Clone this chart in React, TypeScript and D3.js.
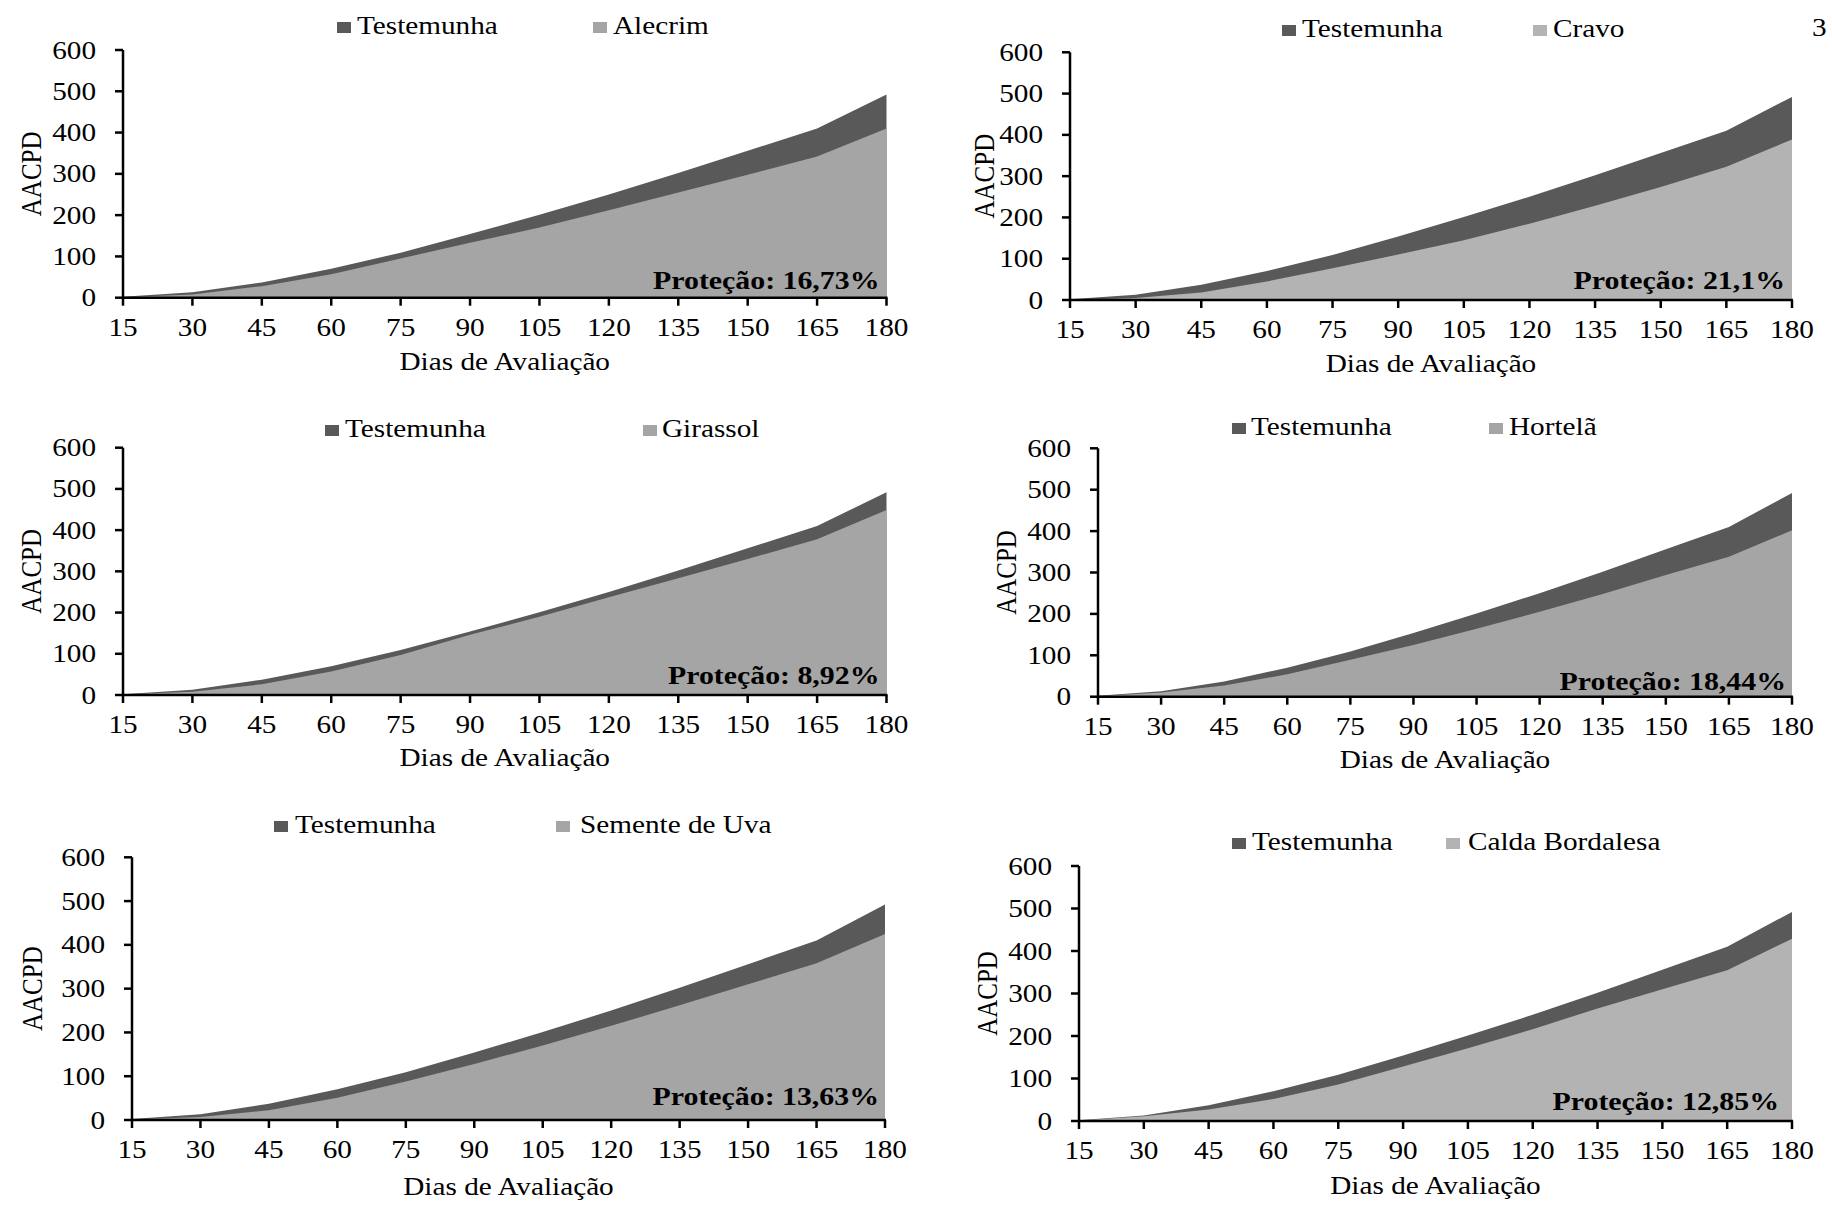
import React from "react";
import * as d3 from "d3";

const days = [15, 30, 45, 60, 75, 90, 105, 120, 135, 150, 165, 180];
const yTicks = [0, 100, 200, 300, 400, 500, 600];

const testemunha = [2, 13, 37, 70, 109, 154, 201, 250, 302, 356, 410, 492];
const alecrim = [1, 8, 28, 57, 95, 133, 170, 212, 255, 298, 342, 410];
const cravo = [0, 5, 18, 45, 77, 110, 145, 185, 228, 274, 323, 389];
const girassol = [1, 8, 26, 57, 97, 146, 190, 237, 283, 330, 378, 449];
const hortela = [1, 10, 27, 54, 89, 125, 164, 205, 248, 294, 338, 402];
const sementeUva = [1, 7, 22, 51, 88, 128, 170, 215, 262, 310, 358, 425];
const caldaBordalesa = [1, 11, 27, 52, 86, 128, 171, 216, 265, 310, 355, 429];

const treatmentNames = ["Alecrim", "Cravo", "Girassol", "Hortelã", "Semente de Uva", "Calda Bordalesa"];
const treatmentSeries = [alecrim, cravo, girassol, hortela, sementeUva, caldaBordalesa];
const protecoes = ["16,73%", "21,1%", "8,92%", "18,44%", "13,63%", "12,85%"];

const controlName = "Testemunha";
const xTitle = "Dias de Avaliação";
const yTitle = "AACPD";

// layout (positions / styles only)
const layouts = [
  { left: 123, right: 886.5, top: 50, bottom: 297.7, sq1: 337, t1: 357, sq2: 593, t2: 613, lb: 34, pdx: -7, pdy: -8.5, fill: "#a5a5a5", yl: 41, xt: 72 },
  { left: 1070, right: 1792, top: 52.3, bottom: 300, sq1: 1282, t1: 1302, sq2: 1533, t2: 1553, lb: 37, pdx: -7, pdy: -11, fill: "#b3b3b3", yl: 994, xt: 72 },
  { left: 123, right: 886.5, top: 447.7, bottom: 695, sq1: 325, t1: 345, sq2: 643, t2: 662, lb: 437, pdx: -7, pdy: -11.5, fill: "#a5a5a5", yl: 41, xt: 71 },
  { left: 1098, right: 1792, top: 448.3, bottom: 696.7, sq1: 1232, t1: 1251, sq2: 1489, t2: 1509, lb: 435, pdx: -6, pdy: -7, fill: "#a5a5a5", yl: 1016, xt: 71 },
  { left: 132, right: 885, top: 857.3, bottom: 1120, sq1: 274, t1: 295, sq2: 556, t2: 580, lb: 833, pdx: -6, pdy: -15, fill: "#a5a5a5", yl: 42, xt: 75 },
  { left: 1079, right: 1792, top: 866, bottom: 1121, sq1: 1232, t1: 1252, sq2: 1446, t2: 1468, lb: 850, pdx: -13, pdy: -11, fill: "#b3b3b3", yl: 997, xt: 73 },
];

const S = 1.17;
const FONT = "'Liberation Serif', 'Times New Roman', serif";
const DARK = "#595959";

function T(props: { x: number; y: number; children: any; anchor?: string; weight?: string; size?: number; rotate?: boolean }) {
  const { x, y, children, anchor = "start", weight = "normal", size = 25, rotate = false } = props;
  const tr = `translate(${x},${y}) scale(${S},1)` + (rotate ? " rotate(-90)" : "");
  return (
    <text transform={tr} textAnchor={anchor as any} fontSize={size} fontWeight={weight} fontFamily={FONT} fill="#000">
      {children}
    </text>
  );
}

function Panel({ idx }: { idx: number }) {
  const L = layouts[idx];
  const data = treatmentSeries[idx];
  const x = d3.scaleLinear().domain([15, 180]).range([L.left, L.right]);
  const y = d3.scaleLinear().domain([0, 600]).range([L.bottom, L.top]);
  const area = d3
    .area<number>()
    .x((_, i) => x(days[i]))
    .y0(y(0))
    .y1((d) => y(d));
  const cx = (L.left + L.right) / 2;
  const cy = (L.top + L.bottom) / 2;
  return (
    <g>
      <path d={area(testemunha) || ""} fill={DARK} />
      <path d={area(data) || ""} fill={L.fill} />
      {/* axes */}
      <line x1={L.left} x2={L.left} y1={y(600)} y2={y(0)} stroke="#000" strokeWidth={2.5} />
      <line x1={L.left - 1} x2={L.right + 1} y1={y(0)} y2={y(0)} stroke="#000" strokeWidth={2.5} />
      {yTicks.map((t) => (
        <g key={"y" + t}>
          <line x1={L.left - 8} x2={L.left} y1={y(t)} y2={y(t)} stroke="#000" strokeWidth={2.5} />
          <T x={L.left - 27} y={y(t) + 8.5} anchor="end">{t}</T>
        </g>
      ))}
      {days.map((d) => (
        <g key={"x" + d}>
          <line x1={x(d)} x2={x(d)} y1={y(0)} y2={y(0) + 8} stroke="#000" strokeWidth={2.5} />
          <T x={x(d)} y={y(0) + 38} anchor="middle">{d}</T>
        </g>
      ))}
      <T x={cx} y={y(0) + L.xt} anchor="middle">{xTitle}</T>
      <T x={L.yl} y={cy} anchor="middle" rotate>{yTitle}</T>
      {/* legend */}
      <rect x={L.sq1} y={L.lb - 12} width={14} height={11} fill={DARK} />
      <T x={L.t1} y={L.lb}>{controlName}</T>
      <rect x={L.sq2} y={L.lb - 12} width={14} height={11} fill={L.fill} />
      <T x={L.t2} y={L.lb}>{treatmentNames[idx]}</T>
      <T x={L.right + L.pdx} y={y(0) + L.pdy} anchor="end" weight="bold" size={25.5}>
        {"Proteção: " + protecoes[idx]}
      </T>
    </g>
  );
}

export default function App() {
  return (
    <svg
      width={1832}
      height={1208}
      viewBox="0 0 1832 1208"
      style={{ position: "absolute", left: 0, top: 0, background: "#fff" }}
    >
      <rect x={0} y={0} width={1832} height={1208} fill="#fff" />
      {layouts.map((_, i) => (
        <Panel key={i} idx={i} />
      ))}
      <T x={1812} y={36}>3</T>
    </svg>
  );
}
